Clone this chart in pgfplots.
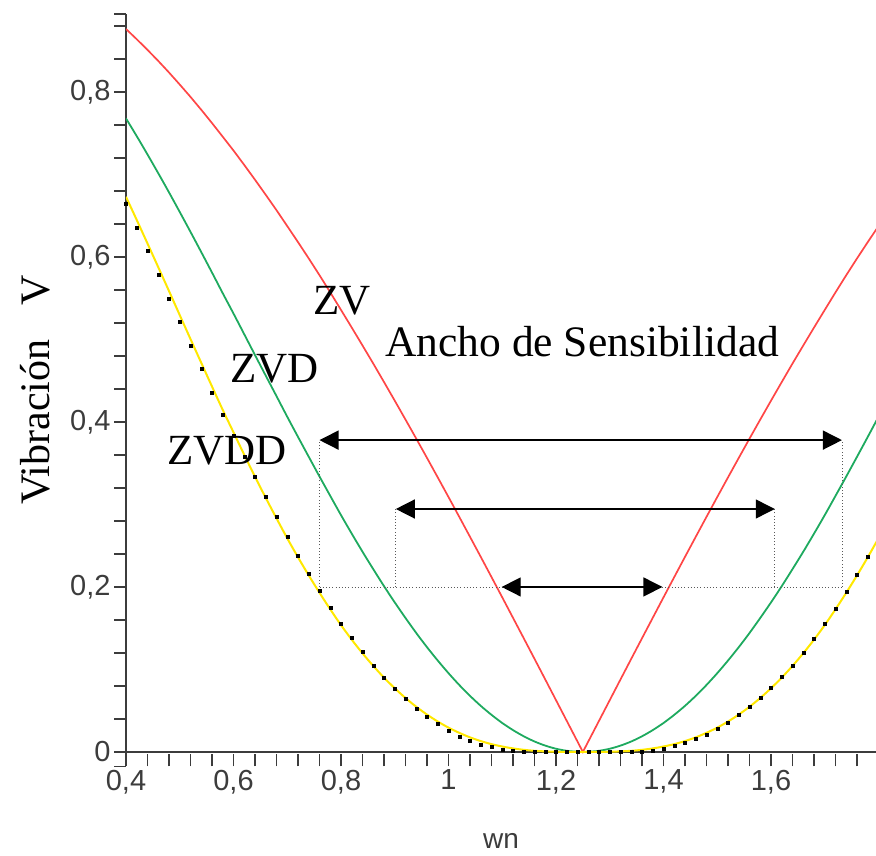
\documentclass[border=0pt]{standalone}
\usepackage{fontspec}
\setmainfont{Liberation Serif}
\newfontfamily\ticksf{Liberation Sans}
\usepackage{pgfplots}
\pgfplotsset{compat=1.18}
\usepackage{pgfplotstable}
\usetikzlibrary{arrows.meta}
\definecolor{zvred}{RGB}{255,70,70}
\definecolor{zvdgreen}{RGB}{30,170,95}
\definecolor{zvddyellow}{RGB}{255,232,0}
\definecolor{axgray}{RGB}{60,60,60}

\pgfplotstableread{
wn   zv     zvd    zvdd   dots
0.40 0.8763 0.7679 0.6729 0.664
0.42 0.8639 0.7464 0.6448 0.636
0.44 0.8510 0.7242 0.6163 0.608
0.46 0.8376 0.7015 0.5876 0.579
0.48 0.8236 0.6783 0.5587 0.550
0.50 0.8090 0.6545 0.5295 0.521
0.52 0.7940 0.6304 0.5005 0.492
0.54 0.7784 0.6059 0.4717 0.464
0.56 0.7623 0.5811 0.4430 0.436
0.58 0.7457 0.5560 0.4146 0.409
0.60 0.7290 0.5314 0.3874 0.383
0.62 0.7115 0.5063 0.3602 0.358
0.64 0.6936 0.4811 0.3337 0.334
0.66 0.6753 0.4561 0.3080 0.309
0.68 0.6567 0.4313 0.2832 0.285
0.70 0.6374 0.4063 0.2590 0.261
0.72 0.6180 0.3819 0.2360 0.238
0.74 0.5982 0.3578 0.2140 0.216
0.76 0.5779 0.3339 0.1930 0.195
0.78 0.5571 0.3104 0.1729 0.175
0.80 0.5358 0.2871 0.1538 0.156
0.82 0.5144 0.2646 0.1361 0.138
0.84 0.4927 0.2427 0.1196 0.121
0.86 0.4708 0.2216 0.1043 0.105
0.88 0.4484 0.2010 0.0901 0.090
0.90 0.4258 0.1813 0.0772 0.077
0.92 0.4029 0.1624 0.0654 0.064
0.94 0.3798 0.1442 0.0548 0.053
0.96 0.3564 0.1270 0.0453 0.043
0.98 0.3328 0.1108 0.0369 0.034
1.00 0.3090 0.0955 0.0295 0.026
1.02 0.2850 0.0812 0.0232 0.019
1.04 0.2608 0.0680 0.0177 0.014
1.06 0.2365 0.0559 0.0132 0.009
1.08 0.2120 0.0450 0.0095 0.006
1.10 0.1874 0.0351 0.0066 0.003
1.12 0.1626 0.0265 0.0043 0.001
1.14 0.1378 0.0190 0.0026 0.000
1.16 0.1129 0.0127 0.0014 0.000
1.18 0.0879 0.0077 0.0007 0.000
1.20 0.0628 0.0039 0.0003 0.000
1.22 0.0377 0.0014 0.0001 0.000
1.24 0.0126 0.0002 0.0000 0.000
1.25 0.0000 0.0000 0.0000 nan
1.26 0.0126 0.0002 0.0000 0.000
1.28 0.0377 0.0014 0.0001 0.000
1.30 0.0628 0.0039 0.0003 0.000
1.32 0.0879 0.0077 0.0007 0.000
1.34 0.1129 0.0127 0.0014 0.000
1.36 0.1378 0.0190 0.0026 0.000
1.38 0.1626 0.0265 0.0043 0.002
1.40 0.1874 0.0351 0.0066 0.004
1.42 0.2120 0.0450 0.0095 0.007
1.44 0.2365 0.0559 0.0132 0.011
1.46 0.2608 0.0680 0.0177 0.016
1.48 0.2850 0.0812 0.0232 0.021
1.50 0.3090 0.0955 0.0295 0.028
1.52 0.3328 0.1108 0.0369 0.036
1.54 0.3564 0.1270 0.0453 0.045
1.56 0.3798 0.1442 0.0548 0.055
1.58 0.4029 0.1624 0.0654 0.066
1.60 0.4258 0.1813 0.0772 0.078
1.62 0.4484 0.2010 0.0901 0.091
1.64 0.4708 0.2216 0.1043 0.105
1.66 0.4927 0.2427 0.1196 0.120
1.68 0.5144 0.2646 0.1361 0.137
1.70 0.5358 0.2871 0.1538 0.155
1.72 0.5571 0.3104 0.1729 0.174
1.74 0.5779 0.3339 0.1930 0.194
1.76 0.5982 0.3578 0.2140 0.215
1.78 0.6180 0.3819 0.2360 0.237
1.80 0.6374 0.4063 0.2590 0.260
}\datatab

\begin{document}
\begin{tikzpicture}
\begin{axis}[
  scale only axis, width=750bp, height=752.4bp,
  xmin=0.4, xmax=1.79535, ymin=-0.0175, ymax=0.8945,
  axis lines=left,
  axis line style={-, draw=axgray, line width=1.6bp},
  x axis line style={draw=none},
  xtick={0.4,0.6,0.8,1,1.2,1.4,1.6},
  minor xtick={0.44,0.48,0.52,0.56,0.64,0.68,0.72,0.76,0.84,0.88,0.92,0.96,1.04,1.08,1.12,1.16,1.24,1.28,1.32,1.36,1.44,1.48,1.52,1.56,1.64,1.68,1.72,1.76},
  ytick={0,0.2,0.4,0.6,0.8},
  minor ytick={-0.0175,0.04,0.08,0.12,0.16,0.24,0.28,0.32,0.36,0.44,0.48,0.52,0.56,0.64,0.68,0.72,0.76,0.84,0.88,0.8945},
  extra y ticks={0}, extra y tick labels={},
  extra y tick style={grid=major, major grid style={draw=axgray, line width=1.6bp}},
  xtick align=inside, ytick align=outside,
  major tick length=12bp, minor tick length=12bp,
  every tick/.style={draw=axgray, line width=1.4bp},
  /pgf/number format/assume math mode=true,
  /pgf/number format/use comma,
  ticklabel style={font=\ticksf\fontsize{29bp}{31bp}\selectfont, text=axgray},
  xlabel={wn},
  every axis x label/.style={at={(axis description cs:0.5,-0.1085)}, anchor=base, font=\ticksf\fontsize{28bp}{30bp}\selectfont, text=axgray},
  ylabel={Vibración\hspace{0.8em}V},
  every axis y label/.style={at={(axis description cs:-0.10133,0.5)}, rotate=90, anchor=base, font=\fontsize{42bp}{46bp}\selectfont},
  clip mode=individual,
]
\addplot[zvred, line width=1.7bp] table[x=wn, y=zv]{\datatab};
\addplot[zvdgreen, line width=1.8bp, smooth] table[x=wn, y=zvd]{\datatab};
\addplot[zvddyellow, line width=2bp, smooth] table[x=wn, y=zvdd]{\datatab};
\addplot[only marks, mark=square*, mark size=1.5bp, black] table[x=wn, y=dots]{\datatab};

\draw[gray!70!black, line width=0.9bp, dash pattern=on 1bp off 2.2bp]
  (axis cs:0.760,0.2) -- (axis cs:1.732,0.2)
  (axis cs:0.760,0.2) -- (axis cs:0.760,0.378)
  (axis cs:1.732,0.2) -- (axis cs:1.732,0.378)
  (axis cs:0.902,0.2) -- (axis cs:0.902,0.2945)
  (axis cs:1.607,0.2) -- (axis cs:1.607,0.2945);
\draw[black, line width=1.4bp, {Triangle[length=19bp,width=19bp]}-{Triangle[length=19bp,width=19bp]}]
  (axis cs:0.760,0.378) -- (axis cs:1.732,0.378);
\draw[black, line width=1.4bp, {Triangle[length=19bp,width=19bp]}-{Triangle[length=19bp,width=19bp]}]
  (axis cs:0.902,0.2945) -- (axis cs:1.607,0.2945);
\draw[black, line width=1.4bp, {Triangle[length=19bp,width=19bp]}-{Triangle[length=19bp,width=19bp]}]
  (axis cs:1.099,0.2) -- (axis cs:1.398,0.2);

\node[anchor=base west, inner sep=0pt, font=\fontsize{43bp}{48bp}\selectfont] at (axis cs:0.7479,0.5297) {ZV};
\node[anchor=base west, inner sep=0pt, font=\fontsize{43bp}{48bp}\selectfont] at (axis cs:0.5935,0.4473) {ZVD};
\node[anchor=base west, inner sep=0pt, font=\fontsize{43bp}{48bp}\selectfont] at (axis cs:0.4763,0.3479) {ZVDD};
\node[anchor=base west, inner sep=0pt, font=\fontsize{43.5bp}{48bp}\selectfont] at (axis cs:0.8819,0.4788) {Ancho de Sensibilidad};
\end{axis}
\pgfresetboundingbox
\path[use as bounding box] (-126bp,-89.6bp) rectangle (750bp,766.4bp);
\end{tikzpicture}
\end{document}
